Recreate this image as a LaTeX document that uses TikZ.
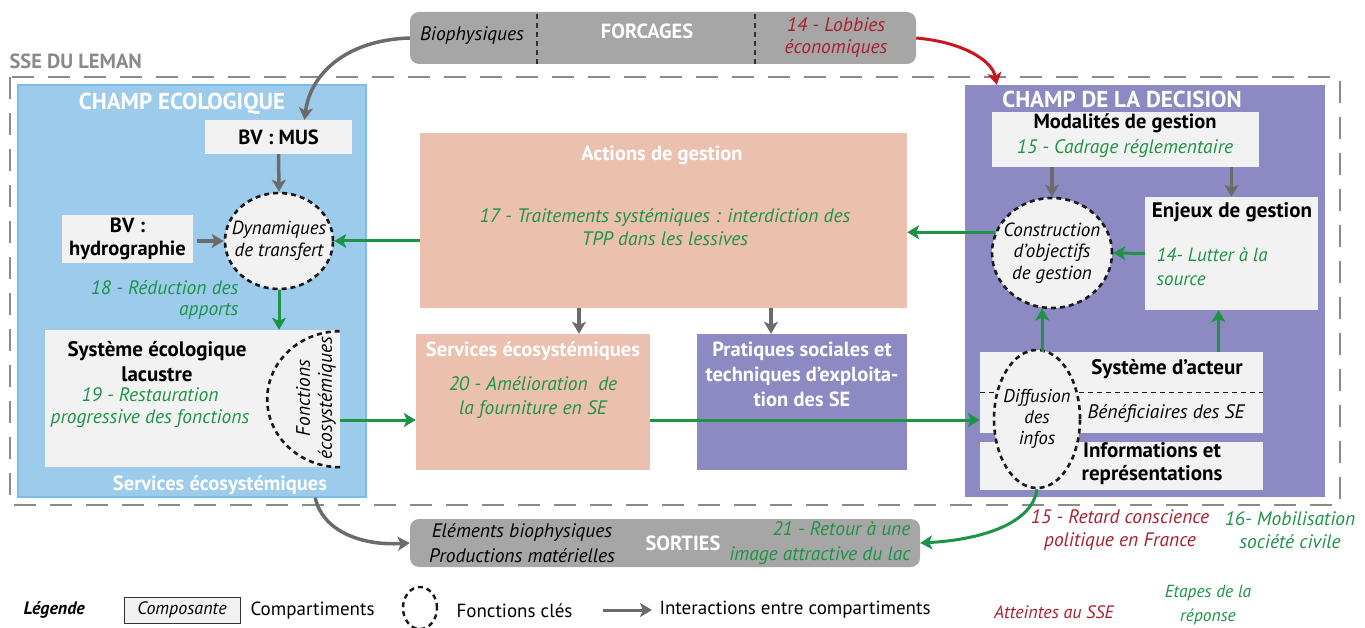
\documentclass[tikz,border=0pt]{standalone}
\usepackage{fontspec}
\setmainfont{PT Sans}
\usetikzlibrary{arrows.meta, calc, shapes.geometric}

\definecolor{ecoblue}{HTML}{9DCBEC}
\definecolor{ecoborder}{HTML}{78BDEB}
\definecolor{salmon}{HTML}{EBC0AF}
\definecolor{decpurple}{HTML}{8C89C3}
\definecolor{boxgray}{HTML}{F2F2F2}
\definecolor{outgray}{HTML}{A6A6A6}
\definecolor{arrgray}{HTML}{6B6B6B}
\definecolor{ssegray}{HTML}{8A8A8A}
\definecolor{stepgreen}{HTML}{1E9346}
\definecolor{harmred}{HTML}{A8202E}
\definecolor{lobbyred}{HTML}{C8161E}

\tikzset{
  fbold/.style={font=\fontsize{20.5}{24}\selectfont\bfseries},
  fital/.style={font=\fontsize{19.5}{22}\selectfont\itshape},
  ftitle/.style={font=\fontsize{23}{26}\selectfont\bfseries, text=white},
  fwhite/.style={font=\fontsize{20.5}{25}\selectfont\bfseries, text=white},
  flegend/.style={font=\fontsize{19}{22}\selectfont},
  compbox/.style={fill=boxgray, inner sep=0pt},
  champ/.style={inner sep=0pt},
  fluxbox/.style={fill=outgray, rounded corners=9pt, inner sep=0pt},
  fonction/.style={ellipse, draw=black!90, fill=boxgray, line width=2.6pt,
    dash pattern=on 5pt off 4pt, inner sep=0pt},
  inter/.style={-{Stealth[length=12pt, width=14pt, inset=3pt]}, draw=arrgray, line width=3.5pt},
  etape/.style={-{Stealth[length=12pt, width=14pt, inset=3pt]}, draw=stepgreen, line width=3pt},
  reponse/.style={text=stepgreen},
  atteinte/.style={text=harmred},
}

\begin{document}
\begin{tikzpicture}[x=1pt, y=-1pt]
    \useasboundingbox (0,0) rectangle (1365,628);

    % ── Forcages ─────────────────────────────────────────────────────────────
    \node[fluxbox, minimum width=506, minimum height=52] (forcages) at (663,38) {};
    \draw[black!80, line width=1.2pt, dash pattern=on 5pt off 4pt] (537,14) -- (537,64);
    \draw[black!80, line width=1.2pt, dash pattern=on 5pt off 4pt] (755,14) -- (755,64);
    \node[fital] (bioph) at (472,36) {Biophysiques};
    \node[fwhite] (forcT) at (647,31) {FORCAGES};
    \node[fital, atteinte, align=center] (lobbies) at (836,38) {14 - Lobbies\\économiques};

    % ── SSE du Leman (dashed frame) ──────────────────────────────────────────
    \node[fbold, text=ssegray, anchor=west] (sse) at (6,61) {SSE DU LEMAN};
    \draw[ssegray, line width=1.8pt, dash pattern=on 22pt off 14pt] (10,77) rectangle (1340,505);

    % ── Champ ecologique ─────────────────────────────────────────────────────
    \node[champ, fill=ecoblue, draw=ecoborder, line width=1.5pt,
          minimum width=348, minimum height=412] (champeco) at (192,291) {};
    \node[ftitle] (ecoT) at (182,104) {CHAMP ECOLOGIQUE};
    \node[compbox, fbold, minimum width=147, minimum height=34] (bvmus) at (278.5,137) {BV : MUS};
    \node[fonction, minimum width=108, minimum height=96,
          label={[fital, align=center, font=\fontsize{19}{22}\selectfont\itshape]center:{Dynamiques\\de transfert}}]
        (dyn) at (279,241) {};
    \node[compbox, fbold, align=center, font=\fontsize{20.5}{23}\selectfont\bfseries,
          minimum width=131, minimum height=48] (bvhydro) at (127.5,239) {BV :\\hydrographie};
    \node[fital, reponse, align=right, anchor=east, font=\fontsize{19.5}{21}\selectfont\itshape]
        (red18) at (242,300) {18 - Réduction des\\apports};
    \node[compbox, minimum width=295, minimum height=137] (syseco) at (192.5,398.5) {};
    \node[fbold, align=center, font=\fontsize{21}{25}\selectfont\bfseries] (sysT) at (157,362) {Système écologique\\lacustre};
    \node[fital, reponse, align=center] (rest19) at (150,408) {19 - Restauration\\progressive des fonctions};
    \draw[black!90, line width=2.6pt, dash pattern=on 5pt off 4pt]
        (syseco.south east) arc[start angle=90, end angle=270, x radius=73, y radius=68];
    \node[fital, rotate=90, align=center] (fonctT) at (316,398) {Fonctions\\écosystémiques};
    \node[fwhite] (servEcoT) at (220,485) {Services écosystémiques};

    % ── Centre : actions, services, pratiques ────────────────────────────────
    \node[champ, fill=salmon, minimum width=487, minimum height=175] (actions) at (663.5,220.5) {};
    \node[fwhite] (actT) at (662,155) {Actions de gestion};
    \node[fital, reponse, align=center, font=\fontsize{19.5}{23}\selectfont\itshape]
        (trait17) at (665,227) {17 - Traitements systémiques : interdiction des\\TPP dans les lessives};
    \node[champ, fill=salmon, minimum width=234, minimum height=136] (services) at (533,402) {};
    \node[fwhite] (servT) at (533,351) {Services écosystémiques};
    \node[fital, reponse, align=center, font=\fontsize{19.5}{24}\selectfont\itshape]
        (amel20) at (533,398) {20 - Amélioration\ \ de\\la fourniture en SE};
    \node[champ, fill=decpurple, minimum width=210, minimum height=136] (pratiques) at (802,402) {};
    \node[fwhite, align=center] (pratT) at (802,374) {Pratiques sociales et\\techniques d’exploita-\\tion des SE};

    % ── Champ de la decision ─────────────────────────────────────────────────
    \node[champ, fill=decpurple, minimum width=360, minimum height=412] (champdec) at (1145,291) {};
    \node[ftitle] (decT) at (1122,99) {CHAMP DE LA DECISION};
    \node[compbox, minimum width=267, minimum height=55] (modalites) at (1125.5,139.5) {};
    \node[fbold] (modT) at (1125,123) {Modalités de gestion};
    \node[fital, reponse] (cad15) at (1125,149) {15 - Cadrage réglementaire};
    \node[fonction, minimum width=120, minimum height=110,
          label={[fital, align=center, font=\fontsize{19}{21.5}\selectfont\itshape]center:{Construction\\d’objectifs\\de gestion}}]
        (construction) at (1052,253) {};
    \node[compbox, minimum width=173, minimum height=113] (enjeux) at (1231.5,253.5) {};
    \node[fbold, font=\fontsize{21}{24}\selectfont\bfseries] (enjT) at (1232,212) {Enjeux de gestion};
    \node[fital, reponse, align=left, anchor=west, font=\fontsize{19}{24}\selectfont\itshape]
        (lutte14) at (1153,267) {14- Lutter à la\\source};
    \node[compbox, minimum width=283, minimum height=81] (acteur) at (1121.5,392.5) {};
    \draw[black!90, line width=1.2pt, dash pattern=on 5pt off 4pt] (acteur.west) -- (acteur.east);
    \node[fbold, font=\fontsize{21}{24}\selectfont\bfseries] (acteurT) at (1167,369) {Système d’acteur};
    \node[fital] (benef) at (1166,414) {Bénéficiaires des SE};
    \node[compbox, minimum width=283, minimum height=48] (infos) at (1121.5,466) {};
    \node[fbold, align=center, font=\fontsize{21}{23}\selectfont\bfseries]
        (infosT) at (1152,464) {Informations et\\représentations};
    \node[fonction, minimum width=86, minimum height=138,
          label={[fital, align=center, font=\fontsize{18.5}{21}\selectfont\itshape]center:{Diffusion\\des\\infos}}]
        (diffusion) at (1037,419) {};

    % ── Sorties ──────────────────────────────────────────────────────────────
    \node[fluxbox, minimum width=510, minimum height=48] (sorties) at (665,543) {};
    \node[fital, align=center, font=\fontsize{19.5}{25}\selectfont\itshape]
        (elem) at (522,543) {Eléments biophysiques\\Productions matérielles};
    \node[fwhite] (sortT) at (683,543) {SORTIES};
    \node[fital, reponse, align=right, anchor=east, font=\fontsize{19.5}{25}\selectfont\itshape]
        (retour21) at (914,543) {21 - Retour à une\\image attractive du lac};
    \node[fital, atteinte, align=center, font=\fontsize{19.5}{23}\selectfont\itshape]
        (retard15) at (1120,530) {15 - Retard conscience\\politique en France};
    \node[fital, reponse, align=center, font=\fontsize{19.5}{23}\selectfont\itshape]
        (mobil16) at (1290,530) {16- Mobilisation\\société civile};

    % ── Interactions (gray) ──────────────────────────────────────────────────
    \coordinate (tpA) at (579,0);
    \coordinate (tpB) at (771,0);
    \draw[inter] (forcages.west) .. controls (345,40) and (310,75) .. ($(bvmus.north)+(26,0)$);
    \draw[inter] (bvmus.south) -- (dyn.north);
    \draw[inter, shorten <=4pt] (bvhydro.east |- dyn.west) -- (dyn.west);
    \draw[inter] (actions.south -| tpA) -- (services.north -| tpA);
    \draw[inter] (actions.south -| tpB) -- (pratiques.north -| tpB);
    \draw[inter] (construction.north |- modalites.south) -- (construction.north);
    \draw[inter] (enjeux.north |- modalites.south) -- (enjeux.north);
    \draw[inter] ($(champeco.south west)+(298,0)$) .. controls (322,530) and (360,546) .. (sorties.west);
    \draw[-{Stealth[length=12pt, width=14pt, inset=3pt]}, draw=lobbyred, line width=3pt]
        (forcages.east) .. controls (962,42) and (992,60) .. ($(champdec.north west)+(32,0)$);

    % ── Etapes de la reponse (green) ─────────────────────────────────────────
    \coordinate (flow) at (0,420);
    \coordinate (enjUp) at ($(enjeux.south)+(-13,0)$);
    \draw[etape] (dyn.east -| actions.west) -- (dyn.east);
    \draw[etape] (dyn.south) -- (dyn.south |- syseco.north);
    \draw[etape] (syseco.east |- flow) -- (services.west |- flow);
    \draw[etape] (services.east |- flow) -- (acteur.west |- flow);
    \draw[etape] (construction.160) -- (construction.160 -| actions.east);
    \draw[etape] (enjeux.west) -- (construction.east);
    \draw[etape] (construction.260 |- acteur.north) -- (construction.260);
    \draw[etape] (enjUp |- acteur.north) -- (enjUp);
    \draw[etape] (diffusion.south) .. controls (1032,525) and (978,540) .. (sorties.east);

    % ── Legende ──────────────────────────────────────────────────────────────
    \node[anchor=west, font=\fontsize{18}{21}\selectfont\bfseries\itshape] (legende) at (20,610) {Légende};
    \node[compbox, draw=black!80, line width=1pt, minimum width=116, minimum height=26,
          font=\fontsize{18}{21}\selectfont\itshape] (composante) at (182,610) {Composante};
    \node[flegend, anchor=west] (compT) at (247,611) {Compartiments};
    \node[fonction, fill=none, line width=2.4pt, minimum width=34, minimum height=42] (legF) at (420,608) {};
    \node[flegend, anchor=west] (foncT) at (453,611) {Fonctions clés};
    \coordinate (legA) at (603,610);
    \coordinate (legB) at (652,610);
    \draw[inter, line width=3pt] (legA) -- (legB);
    \node[flegend, anchor=west] (interT) at (656,610) {Interactions entre compartiments};
    \node[fital, atteinte, font=\fontsize{18}{21}\selectfont\itshape] (atteintes) at (1054,612) {Atteintes au SSE};
    \node[fital, reponse, align=center, font=\fontsize{17.5}{24}\selectfont\itshape]
        (etapes) at (1208,605) {Etapes de la\\réponse};

\end{tikzpicture}
\end{document}
